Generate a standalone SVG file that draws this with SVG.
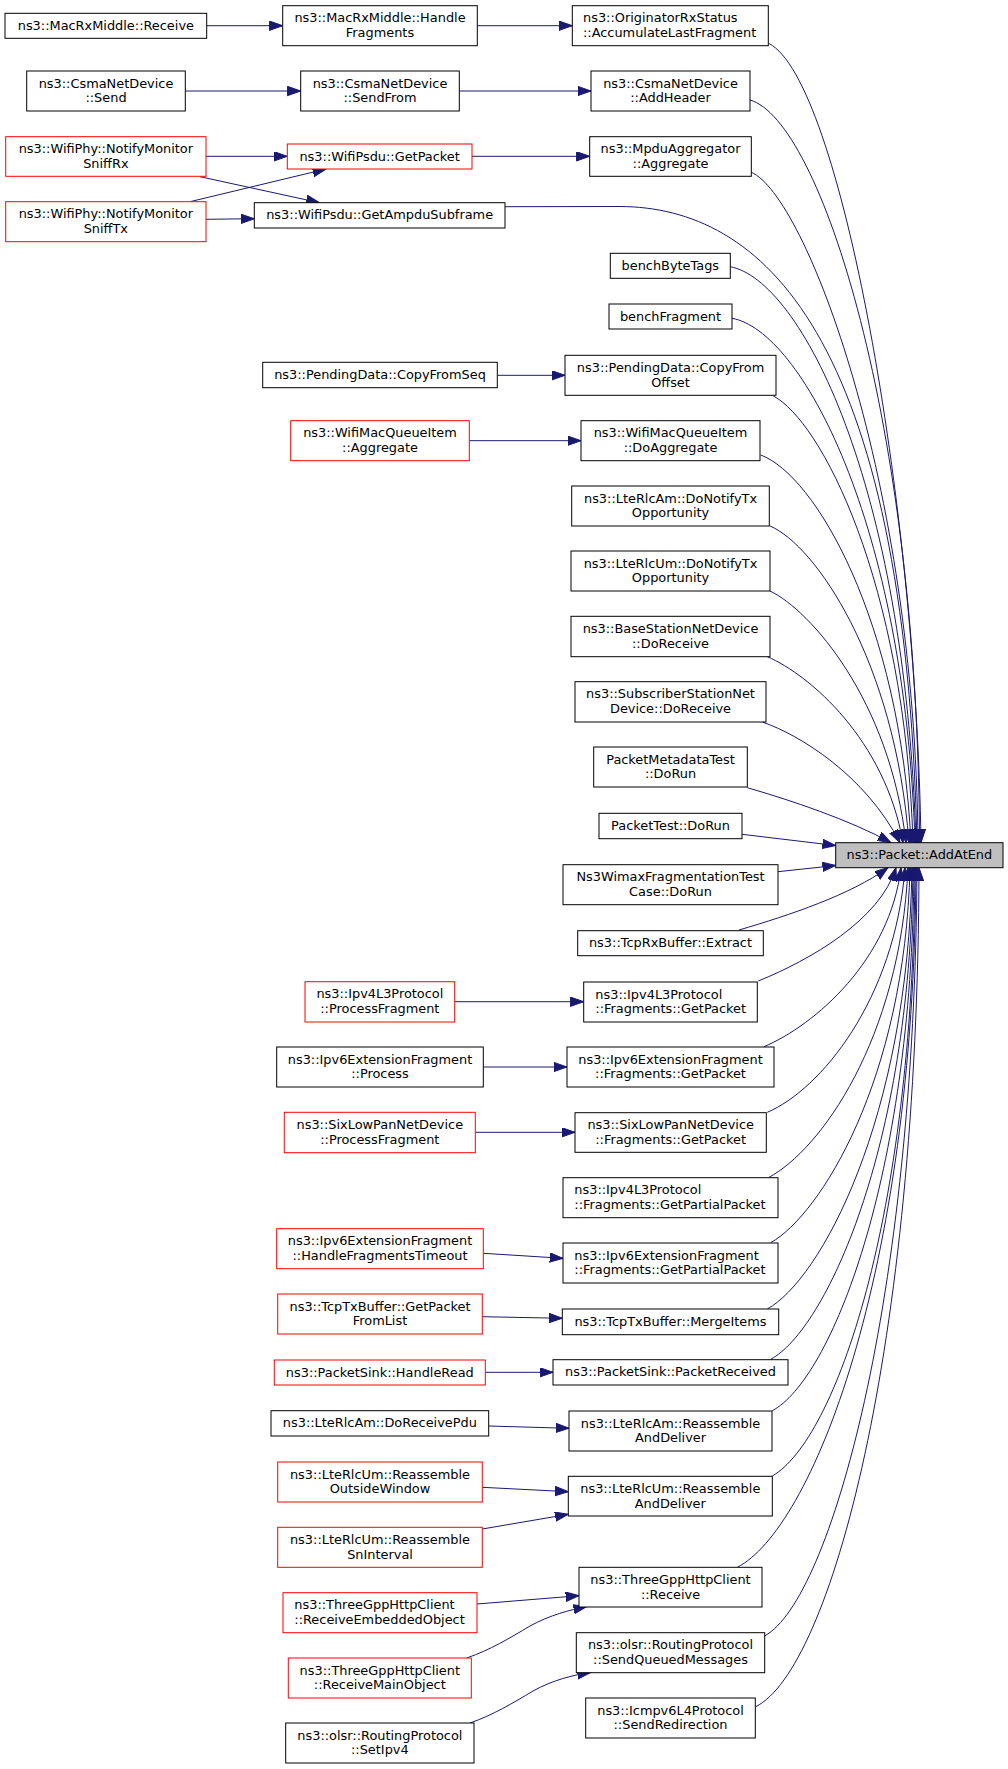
<svg xmlns="http://www.w3.org/2000/svg" width="1008" height="1769" viewBox="0 0 1008 1769">
<style>
.node rect{fill:#ffffff;stroke:#000000;stroke-width:1}
.node.red rect{stroke:#ff0000}
.node.root rect{fill:#bfbfbf}
text{font-family:"DejaVu Sans","Liberation Sans",sans-serif;font-size:12.9px;fill:#000000}
.c{text-anchor:middle}
.l{text-anchor:start}
.edges path{fill:none;stroke:#191970;stroke-width:1;marker-end:url(#arr)}
</style>
<defs>
<marker id="arr" markerUnits="userSpaceOnUse" markerWidth="16" markerHeight="12" refX="13.3" refY="4.7" orient="auto">
<path d="M0,0 L13.3,4.7 L0,9.4 z" fill="#191970" stroke="#191970" stroke-width="1"/>
</marker>
</defs>
<rect x="0" y="0" width="1008" height="1769" fill="#ffffff"/>
<g class="edges">
<path d="M206.7,25.7 L282.7,25.7"/>
<path d="M477.3,25.7 L572.3,25.7"/>
<path d="M185.3,91 L300.7,91"/>
<path d="M459.3,91 L591,91"/>
<path d="M206,156.3 L287.3,156.3"/>
<path d="M472,156.3 L589.7,156.3"/>
<path d="M200,176.7 L319.5,202.7"/>
<path d="M190,201.7 L326,169"/>
<path d="M206,219.3 L254.3,218.7"/>
<path d="M497.3,375.3 L565,375.3"/>
<path d="M469.3,440.7 L581,440.7"/>
<path d="M454.7,1001.7 L583.7,1001.7"/>
<path d="M483.3,1067 L567,1067"/>
<path d="M475.3,1132.3 L575,1132.3"/>
<path d="M483.3,1253.3 L563,1258.3"/>
<path d="M482.3,1316.7 L562.3,1318.3"/>
<path d="M485.3,1372.3 L553,1372.3"/>
<path d="M488.7,1426 L569,1428.3"/>
<path d="M482.3,1487.3 L568.3,1491.7"/>
<path d="M482.3,1529 L568.3,1514.3"/>
<path d="M477,1604 L579,1595.7"/>
<path d="M466.7,1658 C490,1650 510,1638 530,1626 C550,1615 570,1610 586.7,1606.5"/>
<path d="M470,1723 C493,1715 513,1703 533,1691 C553,1680 573,1675 590.7,1672.5"/>
<path d="M769,43.5 C840,80 916,500 921,842.7"/>
<path d="M750,100 C820,120 918,420 919.5,842.7"/>
<path d="M751.3,172.3 C805,195 915,480 918,842.7"/>
<path d="M505,206.7 L620,206.5 C760,207 905,330 917,842.7"/>
<path d="M730.3,266.7 C800,280 905,480 916,842.7"/>
<path d="M732,318.3 C800,330 905,520 915,842.7"/>
<path d="M773.3,396 C820,420 905,580 913,842.7"/>
<path d="M760.7,455 C815,475 900,620 911,842.7"/>
<path d="M770,526 C815,545 895,660 909,842.7"/>
<path d="M770,591 C810,610 890,700 906,842.7"/>
<path d="M767.3,656.7 C810,675 885,740 903,842.7"/>
<path d="M762.3,722 C800,735 865,775 900,842.7"/>
<path d="M747.3,787.7 C790,800 850,820 891,842.7"/>
<path d="M742,834.3 L835.7,845.5"/>
<path d="M778,871.7 L835.7,865.5"/>
<path d="M739,930 C790,915 850,895 888,867.7"/>
<path d="M758.3,981 C810,960 880,920 896,867.7"/>
<path d="M764,1046.7 C815,1025 890,960 901,867.7"/>
<path d="M767.3,1112.3 C820,1090 895,1000 905,867.7"/>
<path d="M769,1177.3 C820,1150 900,1040 908,867.7"/>
<path d="M770.7,1242.7 C820,1215 905,1080 910,867.7"/>
<path d="M767.3,1309 C820,1280 908,1120 912,867.7"/>
<path d="M770.7,1359.3 C825,1330 910,1150 913,867.7"/>
<path d="M772.3,1410.7 C830,1380 912,1180 914,867.7"/>
<path d="M772.3,1476 C835,1440 913,1220 915,867.7"/>
<path d="M737.3,1567.3 C810,1530 914,1280 916,867.7"/>
<path d="M765,1635.7 C830,1600 915,1300 917,867.7"/>
<path d="M755.7,1706.7 C830,1670 918,1350 919,867.7"/>
</g>
<g id="n_MacRxMiddle_Receive" class="node"><rect x="5" y="13.3" width="201.7" height="25"/><text class="c" x="105.85" y="30">ns3::MacRxMiddle::Receive</text></g>
<g id="n_CsmaNetDevice_Send" class="node"><rect x="26.7" y="71" width="158.6" height="40"/><text class="c" x="106" y="87.6">ns3::CsmaNetDevice</text><text class="c" x="106" y="102.3">::Send</text></g>
<g id="n_NotifyMonitorSniffRx" class="node red"><rect x="5.7" y="136.7" width="200.3" height="39.6"/><text class="c" x="105.85" y="153.3">ns3::WifiPhy::NotifyMonitor</text><text class="c" x="105.85" y="168">SniffRx</text></g>
<g id="n_NotifyMonitorSniffTx" class="node red"><rect x="5.7" y="201.7" width="200.3" height="40"/><text class="c" x="105.85" y="218.3">ns3::WifiPhy::NotifyMonitor</text><text class="c" x="105.85" y="233">SniffTx</text></g>
<g id="n_HandleFragments" class="node"><rect x="282.7" y="5.7" width="194.6" height="40"/><text class="c" x="380" y="22.3">ns3::MacRxMiddle::Handle</text><text class="c" x="380" y="37">Fragments</text></g>
<g id="n_SendFrom" class="node"><rect x="300.7" y="71" width="158.6" height="40"/><text class="c" x="380" y="87.6">ns3::CsmaNetDevice</text><text class="c" x="380" y="102.3">::SendFrom</text></g>
<g id="n_WifiPsdu_GetPacket" class="node red"><rect x="287.3" y="144" width="184.7" height="25"/><text class="c" x="379.65" y="160.7">ns3::WifiPsdu::GetPacket</text></g>
<g id="n_GetAmpduSubframe" class="node"><rect x="254.3" y="202.7" width="250.7" height="25.3"/><text class="c" x="379.65" y="219.4">ns3::WifiPsdu::GetAmpduSubframe</text></g>
<g id="n_CopyFromSeq" class="node"><rect x="262.7" y="362.3" width="234.6" height="25.4"/><text class="c" x="380" y="379">ns3::PendingData::CopyFromSeq</text></g>
<g id="n_WifiMacQueueItem_Aggregate" class="node red"><rect x="290.7" y="420.7" width="178.6" height="40"/><text class="c" x="380" y="437.3">ns3::WifiMacQueueItem</text><text class="c" x="380" y="452">::Aggregate</text></g>
<g id="n_Ipv4_ProcessFragment" class="node red"><rect x="305" y="981.7" width="149.7" height="40.3"/><text class="c" x="379.85" y="998.3">ns3::Ipv4L3Protocol</text><text class="c" x="379.85" y="1013">::ProcessFragment</text></g>
<g id="n_Ipv6_Process" class="node"><rect x="276.7" y="1047" width="206.6" height="40"/><text class="c" x="380" y="1063.6">ns3::Ipv6ExtensionFragment</text><text class="c" x="380" y="1078.3">::Process</text></g>
<g id="n_SixLowPan_ProcessFragment" class="node red"><rect x="284.3" y="1112.3" width="191" height="40.4"/><text class="c" x="379.8" y="1128.9">ns3::SixLowPanNetDevice</text><text class="c" x="379.8" y="1143.6">::ProcessFragment</text></g>
<g id="n_HandleFragmentsTimeout" class="node red"><rect x="276.7" y="1228.7" width="206.6" height="40"/><text class="c" x="380" y="1245.3">ns3::Ipv6ExtensionFragment</text><text class="c" x="380" y="1260">::HandleFragmentsTimeout</text></g>
<g id="n_GetPacketFromList" class="node red"><rect x="277.7" y="1294" width="204.6" height="40"/><text class="c" x="380" y="1310.6">ns3::TcpTxBuffer::GetPacket</text><text class="c" x="380" y="1325.3">FromList</text></g>
<g id="n_HandleRead" class="node red"><rect x="274.3" y="1360" width="211" height="25"/><text class="c" x="379.8" y="1376.7">ns3::PacketSink::HandleRead</text></g>
<g id="n_DoReceivePdu" class="node"><rect x="271" y="1410.7" width="217.7" height="25.3"/><text class="c" x="379.85" y="1427.4">ns3::LteRlcAm::DoReceivePdu</text></g>
<g id="n_ReassembleOutsideWindow" class="node red"><rect x="277.7" y="1462" width="204.6" height="40"/><text class="c" x="380" y="1478.6">ns3::LteRlcUm::Reassemble</text><text class="c" x="380" y="1493.3">OutsideWindow</text></g>
<g id="n_ReassembleSnInterval" class="node red"><rect x="277.7" y="1527.3" width="204.6" height="40"/><text class="c" x="380" y="1543.9">ns3::LteRlcUm::Reassemble</text><text class="c" x="380" y="1558.6">SnInterval</text></g>
<g id="n_ReceiveEmbeddedObject" class="node red"><rect x="283" y="1592.7" width="194" height="40"/><text class="l" x="294.3" y="1609.3">ns3::ThreeGppHttpClient</text><text class="l" x="294.3" y="1624">::ReceiveEmbeddedObject</text></g>
<g id="n_ReceiveMainObject" class="node red"><rect x="288.3" y="1658" width="183" height="40"/><text class="c" x="379.8" y="1674.6">ns3::ThreeGppHttpClient</text><text class="c" x="379.8" y="1689.3">::ReceiveMainObject</text></g>
<g id="n_SetIpv4" class="node"><rect x="285.7" y="1723" width="188.3" height="40"/><text class="c" x="379.85" y="1739.6">ns3::olsr::RoutingProtocol</text><text class="c" x="379.85" y="1754.3">::SetIpv4</text></g>
<g id="n_AccumulateLastFragment" class="node"><rect x="572.3" y="5.7" width="196" height="40"/><text class="l" x="583" y="22.3">ns3::OriginatorRxStatus</text><text class="l" x="583" y="37">::AccumulateLastFragment</text></g>
<g id="n_AddHeader" class="node"><rect x="591" y="71" width="159" height="40"/><text class="c" x="670.5" y="87.6">ns3::CsmaNetDevice</text><text class="c" x="670.5" y="102.3">::AddHeader</text></g>
<g id="n_MpduAggregator_Aggregate" class="node"><rect x="589.7" y="136.7" width="161.6" height="39.6"/><text class="c" x="670.5" y="153.3">ns3::MpduAggregator</text><text class="c" x="670.5" y="168">::Aggregate</text></g>
<g id="n_benchByteTags" class="node"><rect x="610.3" y="253.3" width="120" height="25"/><text class="c" x="670.3" y="270">benchByteTags</text></g>
<g id="n_benchFragment" class="node"><rect x="609" y="304" width="123" height="25"/><text class="c" x="670.5" y="320.7">benchFragment</text></g>
<g id="n_CopyFromOffset" class="node"><rect x="565" y="355.3" width="211" height="40"/><text class="c" x="670.5" y="371.9">ns3::PendingData::CopyFrom</text><text class="c" x="670.5" y="386.6">Offset</text></g>
<g id="n_DoAggregate" class="node"><rect x="581" y="420.7" width="179" height="40"/><text class="c" x="670.5" y="437.3">ns3::WifiMacQueueItem</text><text class="c" x="670.5" y="452">::DoAggregate</text></g>
<g id="n_LteRlcAm_DoNotifyTx" class="node"><rect x="571.7" y="486" width="197.6" height="40"/><text class="c" x="670.5" y="502.6">ns3::LteRlcAm::DoNotifyTx</text><text class="c" x="670.5" y="517.3">Opportunity</text></g>
<g id="n_LteRlcUm_DoNotifyTx" class="node"><rect x="571" y="551" width="199" height="40"/><text class="c" x="670.5" y="567.6">ns3::LteRlcUm::DoNotifyTx</text><text class="c" x="670.5" y="582.3">Opportunity</text></g>
<g id="n_BaseStation_DoReceive" class="node"><rect x="571" y="616.3" width="199" height="40.4"/><text class="c" x="670.5" y="632.9">ns3::BaseStationNetDevice</text><text class="c" x="670.5" y="647.6">::DoReceive</text></g>
<g id="n_SubscriberStation_DoReceive" class="node"><rect x="575" y="681.7" width="191" height="40.3"/><text class="c" x="670.5" y="698.3">ns3::SubscriberStationNet</text><text class="c" x="670.5" y="713">Device::DoReceive</text></g>
<g id="n_PacketMetadataTest_DoRun" class="node"><rect x="593.7" y="747" width="153.6" height="40"/><text class="c" x="670.5" y="763.6">PacketMetadataTest</text><text class="c" x="670.5" y="778.3">::DoRun</text></g>
<g id="n_PacketTest_DoRun" class="node"><rect x="599" y="813.3" width="143" height="25.4"/><text class="c" x="670.5" y="830">PacketTest::DoRun</text></g>
<g id="n_Ns3WimaxFragmentationTestCase_DoRun" class="node"><rect x="563" y="864.7" width="215" height="40"/><text class="c" x="670.5" y="881.3">Ns3WimaxFragmentationTest</text><text class="c" x="670.5" y="896">Case::DoRun</text></g>
<g id="n_TcpRxBuffer_Extract" class="node"><rect x="577.7" y="930.7" width="185.6" height="25"/><text class="c" x="670.5" y="947.4">ns3::TcpRxBuffer::Extract</text></g>
<g id="n_Ipv4_Fragments_GetPacket" class="node"><rect x="583.7" y="982" width="173.6" height="40"/><text class="l" x="595.3" y="998.6">ns3::Ipv4L3Protocol</text><text class="l" x="595.3" y="1013.3">::Fragments::GetPacket</text></g>
<g id="n_Ipv6_Fragments_GetPacket" class="node"><rect x="567" y="1047" width="207" height="40"/><text class="c" x="670.5" y="1063.6">ns3::Ipv6ExtensionFragment</text><text class="c" x="670.5" y="1078.3">::Fragments::GetPacket</text></g>
<g id="n_SixLowPan_Fragments_GetPacket" class="node"><rect x="575" y="1112.7" width="191.3" height="39.6"/><text class="c" x="670.65" y="1129.3">ns3::SixLowPanNetDevice</text><text class="c" x="670.65" y="1144">::Fragments::GetPacket</text></g>
<g id="n_Ipv4_Fragments_GetPartialPacket" class="node"><rect x="563" y="1177.7" width="215" height="40"/><text class="l" x="574.3" y="1194.3">ns3::Ipv4L3Protocol</text><text class="l" x="574.3" y="1209">::Fragments::GetPartialPacket</text></g>
<g id="n_Ipv6_Fragments_GetPartialPacket" class="node"><rect x="563" y="1243" width="215" height="40"/><text class="l" x="574.3" y="1259.6">ns3::Ipv6ExtensionFragment</text><text class="l" x="574.3" y="1274.3">::Fragments::GetPartialPacket</text></g>
<g id="n_MergeItems" class="node"><rect x="562.3" y="1309" width="216.4" height="25.7"/><text class="c" x="670.5" y="1325.8">ns3::TcpTxBuffer::MergeItems</text></g>
<g id="n_PacketReceived" class="node"><rect x="553" y="1359.7" width="235" height="25.3"/><text class="c" x="670.5" y="1376.4">ns3::PacketSink::PacketReceived</text></g>
<g id="n_LteRlcAm_ReassembleAndDeliver" class="node"><rect x="569" y="1411" width="203" height="40"/><text class="c" x="670.5" y="1427.6">ns3::LteRlcAm::Reassemble</text><text class="c" x="670.5" y="1442.3">AndDeliver</text></g>
<g id="n_LteRlcUm_ReassembleAndDeliver" class="node"><rect x="568.3" y="1476.3" width="204" height="39.7"/><text class="c" x="670.3" y="1492.9">ns3::LteRlcUm::Reassemble</text><text class="c" x="670.3" y="1507.6">AndDeliver</text></g>
<g id="n_ThreeGppHttpClient_Receive" class="node"><rect x="579" y="1567.3" width="183" height="39.7"/><text class="c" x="670.5" y="1583.9">ns3::ThreeGppHttpClient</text><text class="c" x="670.5" y="1598.6">::Receive</text></g>
<g id="n_SendQueuedMessages" class="node"><rect x="576.3" y="1632.7" width="188.4" height="40"/><text class="c" x="670.5" y="1649.3">ns3::olsr::RoutingProtocol</text><text class="c" x="670.5" y="1664">::SendQueuedMessages</text></g>
<g id="n_SendRedirection" class="node"><rect x="585.7" y="1698" width="169.6" height="40"/><text class="c" x="670.5" y="1714.6">ns3::Icmpv6L4Protocol</text><text class="c" x="670.5" y="1729.3">::SendRedirection</text></g>
<g id="n_Packet_AddAtEnd" class="node root"><rect x="835.7" y="842.7" width="167.3" height="25"/><text class="c" x="919.35" y="859.4">ns3::Packet::AddAtEnd</text></g>
</svg>
